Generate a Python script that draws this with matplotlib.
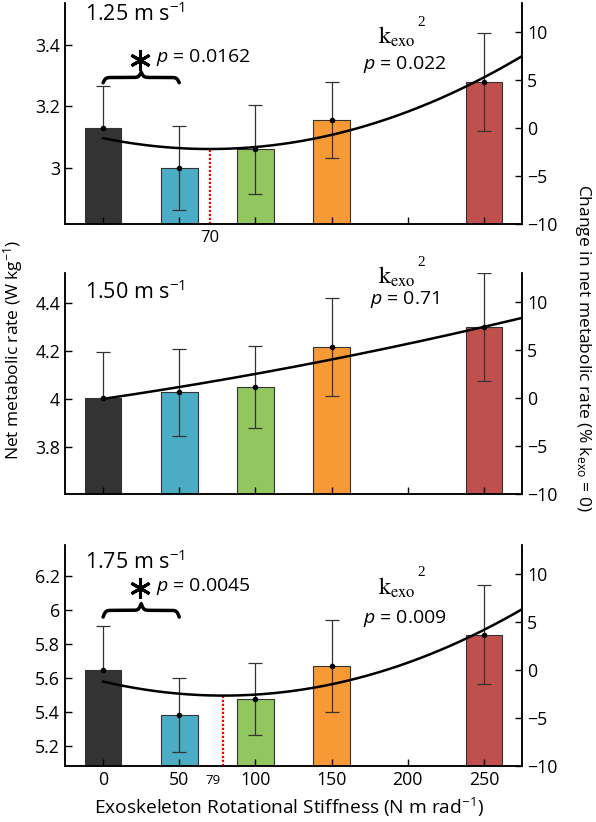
import numpy as np
import matplotlib.pyplot as plt
from matplotlib.ticker import MultipleLocator, FormatStrFormatter

plt.rcParams['font.family'] = ['Open Sans', 'DejaVu Sans']
plt.rcParams['mathtext.fontset'] = 'custom'
plt.rcParams['mathtext.rm'] = 'Open Sans'
plt.rcParams['mathtext.it'] = 'Open Sans:italic'
plt.rcParams['axes.linewidth'] = 1.1

# data
stiffness = [0, 50, 100, 150, 250]
bar_colors = ['#333333', '#4bacc6', '#92c65e', '#f79a35', '#c0504d']

speeds = ['1.25', '1.50', '1.75']
mean_125 = [3.13, 3.00, 3.06, 3.157, 3.279]
sd_125 = [0.135, 0.136, 0.145, 0.124, 0.16]
mean_150 = [4.005, 4.028, 4.05, 4.217, 4.30]
sd_150 = [0.19, 0.18, 0.17, 0.205, 0.225]
mean_175 = [5.65, 5.387, 5.48, 5.675, 5.857]
sd_175 = [0.26, 0.218, 0.21, 0.27, 0.29]

# quadratic fit of % change vs stiffness (a, b, c)
fit_125 = [2.30e-4, -0.0322, -1.07]
fit_150 = [2.67e-5, 0.0233, -0.10]
fit_175 = [2.34e-4, -0.0370, -1.21]

p_pair = ['0.0162', None, '0.0045']
p_quad = ['0.022', '0.71', '0.009']
k_opt = [70, None, 79]

means = [mean_125, mean_150, mean_175]
sds = [sd_125, sd_150, sd_175]
fits = [fit_125, fit_150, fit_175]

XMIN, XMAX = -25, 275
PMIN, PMAX = -10, 13


def brace(ax, x0, x1, ybase, ytip, lw=2.5):
    half = np.linspace(0, 1, 120)
    beta = 30
    yh = 1 / (1 + np.exp(-beta * half)) + 1 / (1 + np.exp(-beta * (half - 1)))
    yy = np.concatenate([yh, yh[-2::-1]])
    xx = np.linspace(x0, x1, len(yy))
    ax.plot(xx, ybase + (yy - 0.5) * (ytip - ybase), color='k', lw=lw,
            solid_capstyle='round')


fig = plt.figure(figsize=(5.96, 8.22), dpi=100)
L, W, H = 65 / 596, 457 / 596, 221 / 822
tops = [3, 273, 545]

# annotation layout per panel
speed_y = [11.8, 11.0, 11.2]
kexo_y = [9.4, 12.5, 8.5]
pquad_y = [6.6, 10.2, 5.4]
brace_y = [(4.7, 5.8), None, (5.5, 6.9)]
star_y = [7.1, None, 8.5]

for i in range(3):
    bottom = 1 - (tops[i] + 221) / 822
    ax = fig.add_axes([L, bottom, W, H])
    ax2 = ax.twinx()
    m0 = means[i][0]

    ax.bar(stiffness, means[i], width=24, color=bar_colors,
           edgecolor='#333333', linewidth=0.8, zorder=1)
    ax.errorbar(stiffness, means[i], yerr=sds[i], fmt='o', ms=3,
                color='k', ecolor='#333333', elinewidth=0.9, capsize=5,
                capthick=0.9, zorder=3)

    ax.set_xlim(XMIN, XMAX)
    ax.set_ylim(m0 * (1 + PMIN / 100), m0 * (1 + PMAX / 100))
    ax2.set_ylim(PMIN, PMAX)
    ax.yaxis.set_major_locator(MultipleLocator(0.2))
    ax.yaxis.set_major_formatter(FormatStrFormatter('%g'))
    ax2.set_yticks([-10, -5, 0, 5, 10])
    ax.set_xticks([0, 50, 100, 150, 200, 250])
    ax.tick_params(direction='in', length=5, width=1, labelsize=12.8)
    ax2.tick_params(direction='in', length=5, width=1, labelsize=12.8)
    if i < 2:
        ax.tick_params(axis='x', labelbottom=False)
    for a in (ax, ax2):
        a.spines['top'].set_visible(False)

    # quadratic fit curve
    a_, b_, c_ = fits[i]
    xs = np.linspace(0, XMAX, 200)
    ax2.plot(xs, a_ * xs ** 2 + b_ * xs + c_, color='k', lw=1.8, zorder=4)

    if k_opt[i] is not None:
        k = k_opt[i]
        ax2.plot([k, k], [PMIN, a_ * k ** 2 + b_ * k + c_], color='red',
                 ls=(0, (1, 0.8)), lw=1.6, zorder=2)
        trans = ax.get_xaxis_transform()
        if i == 0:
            ax.text(k, -0.025, str(k), transform=trans, ha='center', va='top',
                    fontsize=12)
        else:
            ax.text(k - 2, -0.035, str(k), transform=trans, ha='right',
                    va='top', fontsize=9.5)

    ax2.text(-12, speed_y[i], speeds[i] + r' m s$^{-1}$', fontsize=15.5,
             ha='left', va='center')
    # k_exo with a raised "2"
    ax2.text(193, kexo_y[i], r'$\mathrm{k}_{\mathrm{exo}}$',
             math_fontfamily='stix', fontsize=17, ha='center', va='center')
    ax2.annotate('2', (193, kexo_y[i]), xytext=(17, 11),
                 textcoords='offset points', family='Liberation Serif',
                 fontsize=11, ha='center', va='center')
    ax2.text(198, pquad_y[i], r'$p$ = ' + p_quad[i], fontsize=14,
             ha='center', va='center')

    if p_pair[i] is not None:
        yb, yt = brace_y[i]
        brace(ax2, 0, 50, yb, yt)
        ax2.plot(24, star_y[i], marker=(6, 2, 0), ms=15, mew=2.2, color='k')
        ax2.text(35, star_y[i] + 0.2, r'$p$ = ' + p_pair[i], fontsize=14,
                 ha='left', va='center')

fig.text(0.022, 0.574, r'Net metabolic rate (W kg$^{-1}$)', rotation=90,
         ha='center', va='center', fontsize=12.5)
fig.text(0.978, 0.577, r'Change in net metabolic rate (% k$_{\mathrm{exo}}$ = 0)',
         rotation=-90, ha='center', va='center', fontsize=12.5)
fig.text(0.485, 0.018, r'Exoskeleton Rotational Stiffness (N m rad$^{-1}$)',
         ha='center', va='center', fontsize=13.8)

fig.savefig('out.png', dpi=100)
